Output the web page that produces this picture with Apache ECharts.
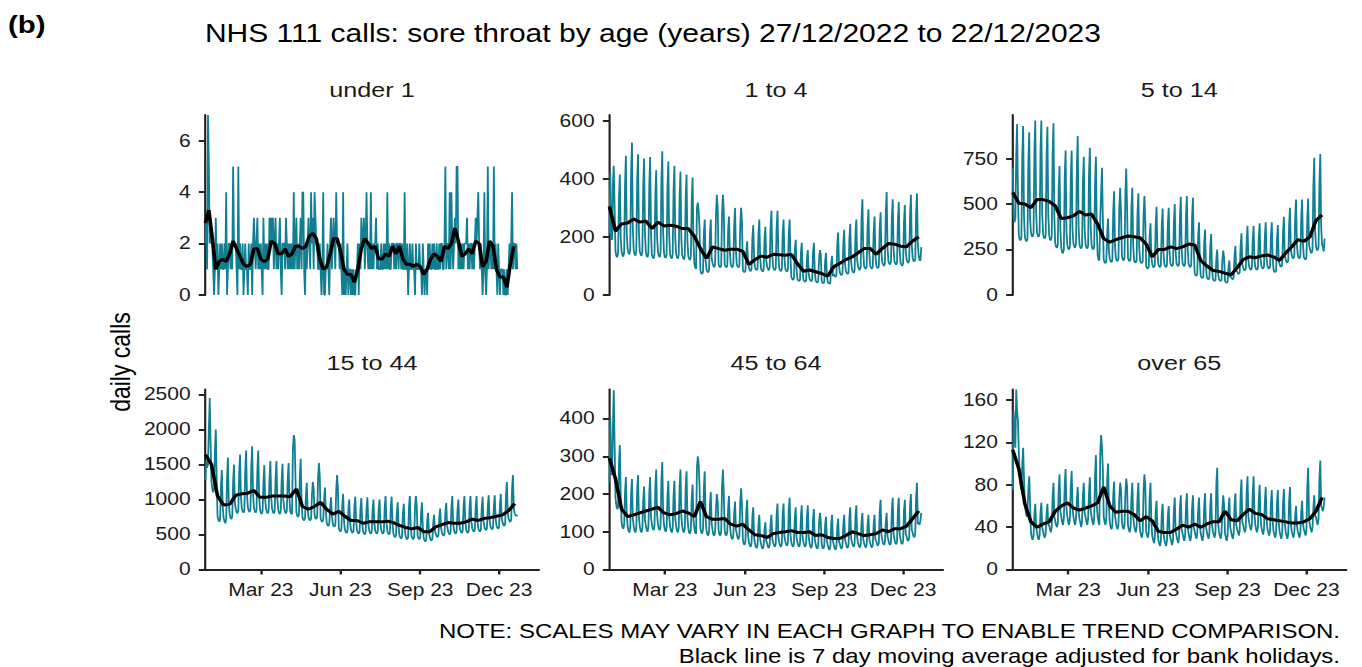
<!DOCTYPE html>
<html>
<head>
<meta charset="utf-8">
<script src="https://cdn.jsdelivr.net/npm/echarts@6/dist/echarts.min.js"></script>
<style>
html,body{margin:0;padding:0;background:#fff;overflow:hidden;}
#wrap{width:1135px;height:667px;transform:scaleX(1.2);transform-origin:0 0;}
#c{width:1135px;height:667px;}
</style>
</head>
<body>
<div id="wrap"><div id="c"></div></div>
<script>
// ---------------- DATA ----------------
const startDate = '2022-12-27';
const panelTitles = ['under 1', '1 to 4', '5 to 14', '15 to 44', '45 to 64', 'over 65'];
const tickDates = ['2023-03-01', '2023-06-01', '2023-09-01', '2023-12-01'];
const tickLabels = ['Mar 23', 'Jun 23', 'Sep 23', 'Dec 23'];

const yTicks_under1 = [0, 2, 4, 6];
const yTicks_1to4 = [0, 200, 400, 600];
const yTicks_5to14 = [0, 250, 500, 750];
const yTicks_15to44 = [0, 500, 1000, 1500, 2000, 2500];
const yTicks_45to64 = [0, 100, 200, 300, 400];
const yTicks_over65 = [0, 40, 80, 120, 160];
const yMax = [7, 620, 990, 2570, 477, 170];

// daily calls, one value per day from 27/12/2022 to 22/12/2023 (rows are weeks Tue..Mon)
const calls_under1 = [
2,3,1,7,5,2,3, 2,2,1,0,1,3,1, 2,0,1,2,1,2,1, 1,2,1,4,0,1,2, 2,1,2,1,5,2,2,
2,1,0,5,1,2,1, 1,2,0,1,2,1,1, 0,2,1,1,2,0,2, 3,2,1,2,3,1,2, 1,2,1,0,3,1,2,
1,2,1,1,3,2,3, 2,3,1,2,3,1,2, 1,2,3,1,0,2,2, 2,1,3,2,1,2,1, 2,1,2,1,4,1,2,
3,1,2,1,2,3,1, 4,4,1,0,2,1,2, 3,2,1,4,2,3,1, 4,3,2,2,1,1,2, 1,0,1,4,0,0,1,
1,2,1,0,2,3,1, 2,3,2,1,4,2,2, 2,1,2,1,0,4,0, 1,0,1,2,0,1,1, 0,1,0,1,0,0,1,
1,2,0,2,1,3,2, 2,3,1,2,4,2,1, 2,1,4,1,2,1,2, 2,3,1,2,1,1,1, 2,1,1,2,1,2,1,
4,1,2,1,1,2,2, 2,1,2,1,2,2,1, 2,2,1,2,1,1,4, 1,1,2,0,1,2,1, 1,2,1,1,0,2,1,
1,1,2,1,1,0,2, 1,0,1,1,0,2,1, 2,1,1,2,1,2,1, 1,2,1,1,2,1,2, 2,1,1,2,5,1,2,
2,1,4,1,4,2,1, 2,3,2,5,5,1,2, 1,2,1,2,1,2,2, 2,3,1,2,1,2,2, 1,2,1,2,3,2,3,
4,2,1,2,1,0,1, 4,1,0,1,5,1,2, 2,1,2,1,5,1,2, 1,0,2,1,0,1,1, 1,0,1,0,0,1,0,
1,2,1,2,4,1,2, 2,1,2,1
];
const calls_1to4 = [
210,420,200,190,380,445,300, 150,135,130,145,330,415,200, 150,138,132,148,380,480,210,
160,145,140,155,420,525,230, 155,140,136,150,390,485,220, 150,140,135,150,375,470,215,
150,135,130,145,380,475,210, 140,130,125,140,345,430,200, 150,135,130,145,395,495,215,
145,130,128,140,370,460,205, 140,130,125,140,355,445,200, 140,130,125,138,340,425,195,
138,128,122,135,330,415,190, 135,125,120,132,325,405,185, 110,95,90,300,318,290,230,
85,75,72,80,210,260,120, 90,80,78,85,210,260,125, 110,100,95,105,280,345,300,
105,98,95,102,280,345,290, 105,98,95,100,220,270,150, 105,98,95,105,240,300,155,
105,98,95,100,240,300,250, 85,80,78,85,150,185,110, 95,85,82,90,195,240,125,
95,88,85,92,210,260,130, 90,85,80,88,190,235,120, 98,90,85,95,235,290,140,
95,88,85,92,235,290,140, 92,85,82,90,210,260,130, 90,85,80,88,210,260,128,
62,55,52,58,155,190,90, 55,50,48,52,145,180,85, 52,48,45,50,125,155,75,
55,50,47,52,145,180,85, 50,45,42,48,125,155,140, 48,42,40,45,118,145,70,
45,40,38,42,110,135,65, 72,65,62,68,175,215,100, 78,70,68,74,180,225,105,
82,75,72,78,195,245,115, 88,80,76,84,210,260,120, 98,90,86,95,265,330,150,
100,92,90,98,235,295,145, 100,94,90,98,215,270,140, 102,95,92,100,230,285,145,
112,105,100,110,285,355,165, 118,108,105,114,265,330,160, 115,108,104,112,255,320,158,
112,105,100,110,250,310,155, 122,114,110,118,275,345,170, 128,118,115,124,280,350,175,
135,120,118,165
];
const calls_5to14 = [
700,430,400,420,760,940,560, 330,305,300,320,760,930,430, 320,300,295,310,730,895,420,
345,325,320,340,790,960,450, 345,325,320,340,790,960,450, 335,315,310,330,760,925,440,
330,305,300,320,770,945,430, 285,265,260,275,580,710,360, 260,235,230,250,650,795,350,
275,255,250,265,650,795,360, 285,265,260,280,710,875,380, 280,260,255,270,620,760,360,
280,260,255,270,660,810,370, 275,255,250,265,620,760,355, 220,195,190,420,560,700,420,
195,180,175,185,340,420,240, 200,185,180,195,460,570,270, 205,190,185,200,480,590,450,
215,195,190,205,560,695,470, 205,190,185,200,480,590,280, 195,180,178,190,450,560,265,
190,178,175,185,440,545,400, 160,148,145,155,320,395,210, 170,155,152,165,390,485,235,
170,158,152,165,380,475,232, 170,158,152,165,385,480,235, 175,162,158,170,400,500,240,
175,162,158,170,435,540,250, 175,162,158,170,440,545,252, 170,158,152,165,430,535,245,
120,108,105,115,320,400,180, 105,95,92,100,290,360,160, 98,90,86,95,270,335,150,
88,80,76,84,200,250,120, 88,80,76,84,195,245,200, 78,70,66,74,150,190,100,
98,90,86,95,215,270,130, 130,118,115,125,270,340,170, 150,138,135,145,300,380,190,
155,142,138,150,300,380,195, 155,142,138,150,315,395,200, 160,148,145,155,320,400,205,
160,148,145,155,320,400,205, 140,128,125,135,305,385,190, 170,158,155,165,345,430,220,
195,182,178,190,385,480,250, 220,205,200,215,420,525,280, 220,205,200,215,420,525,280,
210,198,195,205,425,530,275, 255,235,230,250,600,755,360, 270,250,245,265,620,775,380,
280,260,240,310
];
const calls_15to44 = [
1280,1550,1450,1500,2000,2450,1800, 1250,1150,1100,1150,1700,2000,1300, 760,710,680,720,1200,1420,900,
740,690,660,720,1300,1600,950, 790,740,720,760,1250,1500,950, 870,820,800,840,1380,1640,1050,
880,830,810,850,1420,1700,1070, 890,840,820,860,1480,1760,1090, 880,830,810,850,1420,1700,1070,
860,810,790,830,1250,1490,1000, 870,820,800,840,1300,1550,1020, 870,820,800,840,1300,1550,1020,
860,810,790,830,1270,1510,1000, 870,820,800,840,1280,1520,1010, 830,800,790,1700,1920,1850,1300,
820,770,750,790,1320,1580,1000, 750,710,700,730,1050,1240,870, 750,710,700,730,1060,1250,1150,
780,730,720,750,1280,1520,1350, 730,690,680,710,990,1170,850, 670,630,620,650,880,1030,760,
660,620,610,640,1130,1350,1150, 590,555,540,570,920,1080,700, 570,535,520,550,850,1000,680,
570,535,520,550,880,1040,690, 560,525,510,540,860,1020,670, 550,515,500,530,870,1030,670,
560,525,510,540,850,1000,670, 560,525,510,540,850,1000,670, 560,525,510,540,890,1050,680,
550,515,500,530,880,1040,670, 510,475,460,490,810,960,620, 490,455,440,470,800,940,600,
480,445,430,460,890,1050,600, 480,445,430,460,890,1050,900, 480,445,430,460,810,960,590,
450,415,400,430,690,810,540, 460,425,410,440,660,780,540, 510,475,460,490,740,870,600,
530,495,480,510,800,950,630, 550,515,500,530,890,1050,670, 560,525,510,540,850,1000,670,
570,535,520,550,890,1050,690, 570,535,520,550,890,1050,690, 590,555,540,570,890,1050,700,
590,555,540,570,880,1040,700, 610,575,560,590,900,1060,720, 620,585,570,600,900,1060,730,
630,595,580,610,920,1080,740, 670,635,620,650,1060,1250,800, 730,690,680,710,1150,1350,880,
800,780,760,780
];
const calls_45to64 = [
230,400,260,250,380,475,330, 190,170,160,165,280,330,200, 125,112,108,118,205,245,145,
115,102,98,110,200,240,135, 115,102,98,110,210,250,138, 115,102,98,110,185,220,130,
118,105,100,112,205,245,138, 120,108,104,115,220,265,145, 120,108,104,115,235,285,150,
118,105,100,112,195,235,138, 115,102,98,110,195,235,135, 115,102,98,110,220,265,140,
115,102,98,110,215,260,140, 110,98,95,105,190,225,130, 110,98,95,270,300,280,220,
110,98,95,105,215,260,135, 105,92,90,100,170,205,120, 105,92,90,100,165,200,180,
105,92,90,100,220,265,200, 105,92,90,100,160,195,118, 95,84,80,90,150,180,105,
95,84,80,90,180,215,170, 80,68,65,75,155,185,92, 72,64,60,68,140,165,85,
70,60,57,65,120,145,80, 68,58,55,62,105,125,75, 70,60,57,65,120,145,80,
72,64,60,68,145,175,88, 72,64,60,68,145,175,88, 75,66,63,70,158,190,92,
72,64,60,68,138,165,85, 72,64,60,68,140,170,86, 72,64,60,68,140,170,86,
70,60,57,65,132,160,80, 68,58,55,62,125,150,125, 68,58,55,62,118,140,76,
65,56,52,60,120,145,75, 65,56,52,60,112,135,74, 68,58,55,62,120,145,78,
70,60,57,65,138,165,82, 72,64,60,68,140,170,86, 70,62,58,66,125,150,80,
70,62,58,66,120,145,80, 70,62,58,66,120,145,80, 75,66,63,70,155,185,92,
78,68,65,72,125,150,88, 78,68,65,72,158,190,95, 80,70,67,75,158,190,96,
80,70,67,75,155,185,95, 88,78,75,84,168,200,105, 98,88,85,94,190,230,120,
125,118,130,150
];
const calls_over65 = [
75,150,130,115,170,150,140, 110,90,80,75,100,115,85, 60,55,50,55,75,88,62,
35,30,28,32,52,62,40, 35,30,28,32,54,63,40, 36,32,30,34,52,62,42,
42,38,35,40,68,82,50, 46,42,40,44,75,90,55, 50,45,42,48,80,95,58,
50,45,42,48,78,93,58, 50,45,42,48,66,78,55, 48,44,40,46,70,82,54,
50,45,42,48,72,87,55, 50,45,42,48,88,108,60, 50,45,42,110,127,115,95,
50,45,42,48,85,100,60, 45,40,38,42,70,83,52, 45,40,38,42,68,82,75,
45,40,38,42,72,86,78, 42,38,35,40,68,82,50, 42,38,35,40,68,82,50,
36,33,30,35,75,90,80, 36,33,30,35,68,82,45, 32,28,25,30,55,65,38,
28,25,22,27,52,62,35, 28,25,22,27,50,60,34, 30,26,23,28,56,68,36,
32,28,25,30,58,70,38, 34,30,27,32,60,72,40, 34,30,27,32,58,70,40,
36,32,29,34,56,68,42, 34,30,27,32,60,72,40, 36,32,29,34,60,72,42,
36,33,30,35,80,96,45, 36,32,29,34,58,70,60, 34,30,27,32,56,68,40,
36,32,29,34,60,72,42, 38,35,32,37,70,85,45, 42,38,35,40,72,88,50,
44,40,37,42,72,88,52, 42,38,35,40,66,80,50, 40,36,33,38,64,78,48,
38,35,32,37,62,75,46, 36,33,30,35,62,75,45, 36,32,29,34,62,76,44,
36,32,29,34,64,78,44, 36,33,30,35,50,60,42, 36,33,30,35,54,65,43,
38,35,32,37,78,96,48, 42,38,35,40,58,70,50, 50,45,42,48,85,103,60,
58,55,60,68
];

// 7 day moving average (black line), read at the listed day offsets from 27/12/2022
const maDays_under1 = [0,4,8,12,16,20,24,28,32,36,40,44,48,52,56,60,64,68,72,76,80,84,88,92,96,100,104,108,112,116,
120,124,128,132,136,140,144,148,152,156,160,164,168,172,176,180,184,188,192,196,200,204,208,212,216,220,224,228,232,236,
240,244,248,252,256,260,264,268,272,276,280,284,288,292,296,300,304,308,312,316,320,324,328,332,336,340,344,348,352,356];
const ma_under1 = [2.8,3.3,2.2,1.0,1.3,1.4,1.3,1.6,2.1,1.8, 1.5,1.2,1.1,1.2,1.8,1.8,1.4,1.3,1.4,2.1,
2.0,1.6,1.6,1.8,1.5,1.6,1.9,1.9,1.8,1.9, 2.3,2.4,2.2,1.4,1.0,1.1,1.6,2.2,2.2,1.7,
1.0,0.8,0.8,0.5,1.0,1.8,2.2,2.0,1.8,1.9, 1.4,1.4,1.6,1.5,1.9,1.6,1.9,1.4,1.2,1.2,
1.1,1.2,1.1,0.8,1.0,1.4,1.6,1.5,1.3,1.9, 1.8,2.0,2.6,2.1,1.5,1.6,1.8,1.6,2.1,2.0,
1.1,1.3,2.1,1.9,1.0,0.7,0.7,0.3,1.2,1.9];
const maDays_weekly = [0,7,14,21,28,35,42,49,56,63,70,77,84,91,98,105,112,119,126,133,140,147,154,161,168,175,
182,189,196,203,210,217,224,231,238,245,252,259,266,273,280,287,294,301,308,315,322,329,336,343,350,357];
const ma_1to4 = [305,220,245,248,262,251,255,229,251,238,240,237,229,229,202,160,126,166,160,154,158,158,150,105,122,134,
130,140,139,137,140,108,82,86,80,74,65,97,109,122,131,145,160,160,140,160,177,175,168,166,186,200];
const ma_5to14 = [565,505,500,480,525,525,515,490,420,425,435,460,440,445,390,310,290,305,315,325,320,315,280,210,250,250,
265,255,265,280,275,190,160,135,130,120,110,150,195,210,205,215,220,210,190,230,265,305,295,320,410,440];
const ma_15to44 = [1640,1500,1050,920,930,1060,1080,1090,1130,1030,1030,1050,1050,1050,1040,1150,900,860,900,960,860,790,830,760,700,700,
660,680,680,680,690,670,630,600,580,600,540,540,610,640,670,660,660,680,720,700,730,740,760,780,840,940];
const ma_45to64 = [295,240,160,140,145,150,155,160,165,150,145,148,155,150,140,180,140,133,133,135,120,115,120,105,92,90,
85,95,98,100,103,98,98,100,90,92,85,82,82,90,100,95,90,92,95,105,100,108,108,115,135,155];
const ma_over65 = [113,95,62,45,40,43,45,55,60,63,58,56,58,60,63,78,60,54,55,55,52,46,50,46,36,35,
35,38,42,40,43,40,43,45,45,55,47,46,52,57,53,52,48,47,46,45,44,44,45,48,55,68];

// ---------------- BUILD ----------------
const DAY = 86400000;
const t0 = Date.parse(startDate + 'T00:00:00Z');
const tickDays = tickDates.map(d => Math.round((Date.parse(d + 'T00:00:00Z') - t0) / DAY));

const dailySets = [calls_under1, calls_1to4, calls_5to14, calls_15to44, calls_45to64, calls_over65];
const maSets = [ma_under1, ma_1to4, ma_5to14, ma_15to44, ma_45to64, ma_over65];
const maDaySets = [maDays_under1, maDays_weekly, maDays_weekly, maDays_weekly, maDays_weekly, maDays_weekly];
const yTickSets = [yTicks_under1, yTicks_1to4, yTicks_5to14, yTicks_15to44, yTicks_45to64, yTicks_over65];

const FONT = '"Liberation Sans", Arial, Helvetica, sans-serif';
const TXT = '#1a1a1a';
const TEAL = '#0f7f91';
const colLeft = [170.8, 507.5, 843.6];
const rowTop = [115, 389.5];
const gw = 278.3, gh = 180;

const grids = [], xAxes = [], yAxes = [], series = [], graphics = [];
for (let p = 0; p < 6; p++) {
  const r = Math.floor(p / 3), c = p % 3;
  grids.push({left: colLeft[c], top: rowTop[r], width: gw, height: gh, containLabel: false});
  xAxes.push({
    gridIndex: p, type: 'value', min: -0.5, max: 385, show: r === 1,
    axisLine: {show: true, lineStyle: {color: '#222', width: 2}},
    axisTick: {show: true, length: 5, lineStyle: {color: '#222', width: 2}, customValues: tickDays},
    axisLabel: {show: true, customValues: tickDays, margin: 12, color: TXT, fontSize: 17.5, fontFamily: FONT,
      formatter: v => tickLabels[tickDays.indexOf(Math.round(v))] || ''},
    splitLine: {show: false}
  });
  yAxes.push({
    gridIndex: p, type: 'value', min: 0, max: yMax[p],
    axisLine: {show: true, lineStyle: {color: '#222', width: 1.8}},
    axisTick: {show: true, length: 5.5, lineStyle: {color: '#222', width: 2}, customValues: yTickSets[p]},
    axisLabel: {show: true, customValues: yTickSets[p], margin: 12, color: TXT, fontSize: 17.5, fontFamily: FONT,
      formatter: v => String(v)},
    splitLine: {show: false}
  });
  series.push({
    type: 'line', xAxisIndex: p, yAxisIndex: p, showSymbol: false, symbol: 'none',
    data: dailySets[p].map((v, i) => [i, v]),
    lineStyle: {color: TEAL, width: 1.5}, z: 2, silent: true
  });
  series.push({
    type: 'line', xAxisIndex: p, yAxisIndex: p, showSymbol: false, symbol: 'none',
    data: maDaySets[p].map((d, i) => [d, maSets[p][i]]),
    lineStyle: {color: '#000', width: 3}, z: 3, silent: true
  });
  graphics.push({
    type: 'text', x: colLeft[c] + gw / 2, y: r === 0 ? 90 : 363,
    style: {text: panelTitles[p], fill: TXT, font: '21px ' + FONT, textAlign: 'center', textVerticalAlign: 'middle'}
  });
}

graphics.push({type: 'text', x: 6.7, y: 25,
  style: {text: '(b)', fill: '#000', font: 'bold 24.5px ' + FONT, textAlign: 'left', textVerticalAlign: 'middle'}});
graphics.push({type: 'text', x: 170.8, y: 33,
  style: {text: 'NHS 111 calls: sore throat by age (years) 27/12/2022 to 22/12/2023', fill: '#000',
    font: '25px ' + FONT, textAlign: 'left', textVerticalAlign: 'middle'}});
graphics.push({type: 'text', x: 100, y: 362, rotation: Math.PI / 2,
  style: {text: 'daily calls', fill: '#000', font: '23px ' + FONT, textAlign: 'center', textVerticalAlign: 'middle'}});
graphics.push({type: 'text', x: 1116.7, y: 631,
  style: {text: 'NOTE: SCALES MAY VARY IN EACH GRAPH TO ENABLE TREND COMPARISON.', fill: '#000',
    font: '20px ' + FONT, textAlign: 'right', textVerticalAlign: 'middle'}});
graphics.push({type: 'text', x: 1116.7, y: 656,
  style: {text: 'Black line is 7 day moving average adjusted for bank holidays.', fill: '#000',
    font: '20px ' + FONT, textAlign: 'right', textVerticalAlign: 'middle'}});

const chart = echarts.init(document.getElementById('c'), null, {renderer: 'svg'});
chart.setOption({
  animation: false,
  backgroundColor: '#fff',
  grid: grids, xAxis: xAxes, yAxis: yAxes, series: series,
  graphic: graphics
});
</script>
</body>
</html>
